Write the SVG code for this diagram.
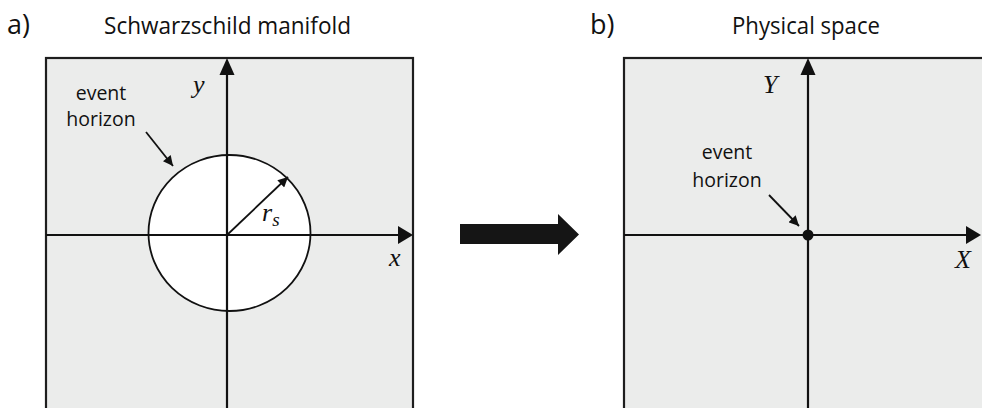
<svg xmlns="http://www.w3.org/2000/svg" width="982" height="408" viewBox="0 0 982 408">
  <style>
    .panel { fill: #ebeceb; stroke: #1e1e1e; stroke-width: 2.2; }
    .axis { stroke: #111; stroke-width: 2.2; fill: none; }
    .thin { stroke: #111; stroke-width: 1.8; fill: none; }
    .title { font-family: "Open Sans", "Liberation Sans", sans-serif; font-size: 23px; fill: #111; }
    .tag { font-family: "Open Sans", "Liberation Sans", sans-serif; font-size: 27px; fill: #111; }
    .label { font-family: "Open Sans", "Liberation Sans", sans-serif; font-size: 19.5px; fill: #111; text-anchor: middle; }
    .math { font-family: "Liberation Serif", "DejaVu Serif", serif; font-style: italic; font-size: 26px; fill: #111; }
  </style>
  <defs>
    <marker id="tip" viewBox="0 0 10 10" refX="10" refY="5" markerWidth="11" markerHeight="10" markerUnits="userSpaceOnUse" orient="auto">
      <path d="M0,0 L10,5 L0,10 z" fill="#111"/>
    </marker>
  </defs>

  <!-- panel a: Schwarzschild manifold -->
  <g id="panel-a">
    <text class="tag" x="7" y="34">a)</text>
    <text class="title" x="104" y="34" textLength="247" lengthAdjust="spacingAndGlyphs">Schwarzschild manifold</text>
    <rect class="panel" x="46" y="58" width="367" height="352"/>
    <ellipse cx="229.5" cy="233" rx="81" ry="78" fill="#fff" stroke="#111" stroke-width="1.8"/>
    <line class="axis" x1="46" y1="235" x2="399" y2="235"/>
    <path d="M398,226 L413,235 L398,244 z" fill="#111"/>
    <line class="axis" x1="227" y1="410" x2="227" y2="73"/>
    <path d="M219.5,75 L227,58 L234.5,75 z" fill="#111"/>
    <text class="math" x="193" y="93">y</text>
    <text class="math" x="389" y="266">x</text>
  </g>

  <!-- radius -->
  <g id="radius">
    <line class="thin" x1="227" y1="235" x2="288" y2="177" marker-end="url(#tip)"/>
    <text class="math" x="262" y="221">r<tspan font-size="19" dy="5">s</tspan></text>
  </g>

  <g id="label-a">
    <text class="label" x="101" y="100">event</text>
    <text class="label" x="101" y="126">horizon</text>
  </g>

  <!-- panel b: physical space -->
  <g id="panel-b">
    <text class="tag" x="590" y="34">b)</text>
    <text class="title" x="732" y="34" textLength="148" lengthAdjust="spacingAndGlyphs">Physical space</text>
    <rect class="panel" x="624" y="58" width="362" height="352"/>
    <line class="axis" x1="624" y1="235" x2="968" y2="235"/>
    <path d="M966,226 L981,235 L966,244 z" fill="#111"/>
    <line class="axis" x1="808" y1="410" x2="808" y2="73"/>
    <path d="M800.5,75 L808,58 L815.5,75 z" fill="#111"/>
    <circle cx="808" cy="235" r="5.5" fill="#111"/>
    <text class="math" x="763" y="93">Y</text>
    <text class="math" x="955" y="268">X</text>
  </g>

  <g id="label-b">
    <text class="label" x="727" y="159">event</text>
    <text class="label" x="727" y="187">horizon</text>
  </g>

  <!-- connectors -->
  <g id="connectors">
    <line class="thin" x1="146" y1="132" x2="173" y2="166" marker-end="url(#tip)"/>
    <line class="thin" x1="769" y1="195" x2="799" y2="226" marker-end="url(#tip)"/>
    <path d="M460,224 L558,224 L558,214 L579,234.5 L558,255 L558,244 L460,244 z" fill="#151515"/>
  </g>
</svg>
